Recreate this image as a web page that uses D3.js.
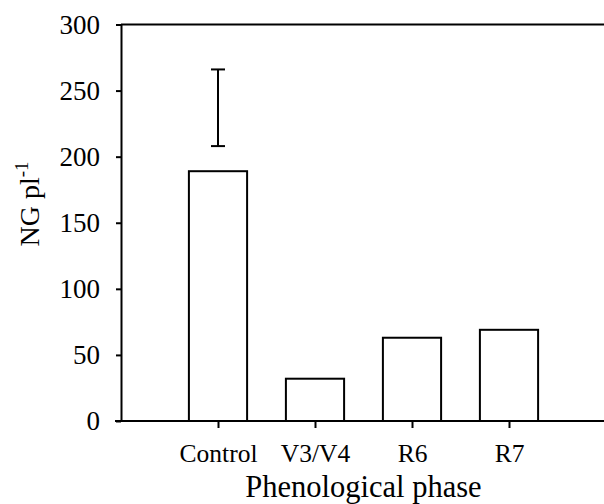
<!DOCTYPE html>
<html>
<head>
<meta charset="utf-8">
<script src="https://cdn.jsdelivr.net/npm/d3@7"></script>
<style>
  html, body { margin: 0; padding: 0; background: #fff; }
  svg { display: block; }
  text { font-family: "Liberation Serif", "Times New Roman", serif; fill: #000; }
</style>
</head>
<body>
<svg id="chart" width="604" height="504"></svg>
<script>
const categories = ["Control", "V3/V4", "R6", "R7"];
const values = [189, 32, 63, 69];
const errLow = [208, null, null, null];
const errHigh = [266, null, null, null];
const yTicks = [0, 50, 100, 150, 200, 250, 300];

const svg = d3.select("#chart");
const plotLeft = 121, plotRight = 606, plotTop = 24.5, plotBottom = 421;

const x = d3.scalePoint().domain(categories).range([plotLeft, plotRight]).padding(1);
const y = d3.scaleLinear().domain([0, 300]).range([plotBottom, plotTop]);
const barW = x.step() * 0.6;

// bars
svg.append("g").selectAll("rect")
  .data(categories)
  .join("rect")
  .attr("x", d => x(d) - barW / 2)
  .attr("y", (d, i) => y(values[i]))
  .attr("width", barW)
  .attr("height", (d, i) => y(0) - y(values[i]))
  .attr("fill", "#fff")
  .attr("stroke", "#000")
  .attr("stroke-width", 2);

// error bars
const eg = svg.append("g").attr("stroke", "#000").attr("stroke-width", 2);
categories.forEach((c, i) => {
  if (errLow[i] == null) return;
  const cx = x(c);
  eg.append("line").attr("x1", cx).attr("x2", cx).attr("y1", y(errLow[i])).attr("y2", y(errHigh[i]));
  eg.append("line").attr("x1", cx - 7).attr("x2", cx + 7).attr("y1", y(errLow[i])).attr("y2", y(errLow[i]));
  eg.append("line").attr("x1", cx - 7).attr("x2", cx + 7).attr("y1", y(errHigh[i])).attr("y2", y(errHigh[i]));
});

// y axis
const yAxis = svg.append("g")
  .attr("transform", `translate(${plotLeft},0)`)
  .call(d3.axisLeft(y).tickValues(yTicks).tickSize(5).tickPadding(16).tickSizeOuter(0));
yAxis.select(".domain").attr("stroke-width", 2);
yAxis.selectAll(".tick line").attr("stroke-width", 2);
yAxis.selectAll(".tick text")
  .attr("font-size", 27);

// top line
svg.append("line")
  .attr("x1", plotLeft).attr("x2", plotRight)
  .attr("y1", y(300)).attr("y2", y(300))
  .attr("stroke", "#000").attr("stroke-width", 2);

// x axis
const xAxis = svg.append("g")
  .attr("transform", `translate(0,${plotBottom})`)
  .call(d3.axisBottom(x).tickSize(7).tickPadding(16).tickSizeOuter(0));
xAxis.select(".domain").attr("d", `M${plotLeft - 6},0H${plotRight}`).attr("stroke-width", 2);
xAxis.selectAll(".tick line").attr("stroke-width", 2);
xAxis.selectAll(".tick text")
  .attr("font-size", 25.5);

// axis titles
svg.append("text")
  .attr("x", (plotLeft + plotRight) / 2)
  .attr("y", 496.5)
  .attr("text-anchor", "middle")
  .attr("font-size", 30.5)
  .text("Phenological phase");

const yt = svg.append("text")
  .attr("transform", `translate(39,204) rotate(-90)`)
  .attr("text-anchor", "middle")
  .attr("font-size", 28);
yt.append("tspan").text("NG pl");
yt.append("tspan").attr("font-size", 19).attr("dy", -11).text("-1");
</script>
</body>
</html>
